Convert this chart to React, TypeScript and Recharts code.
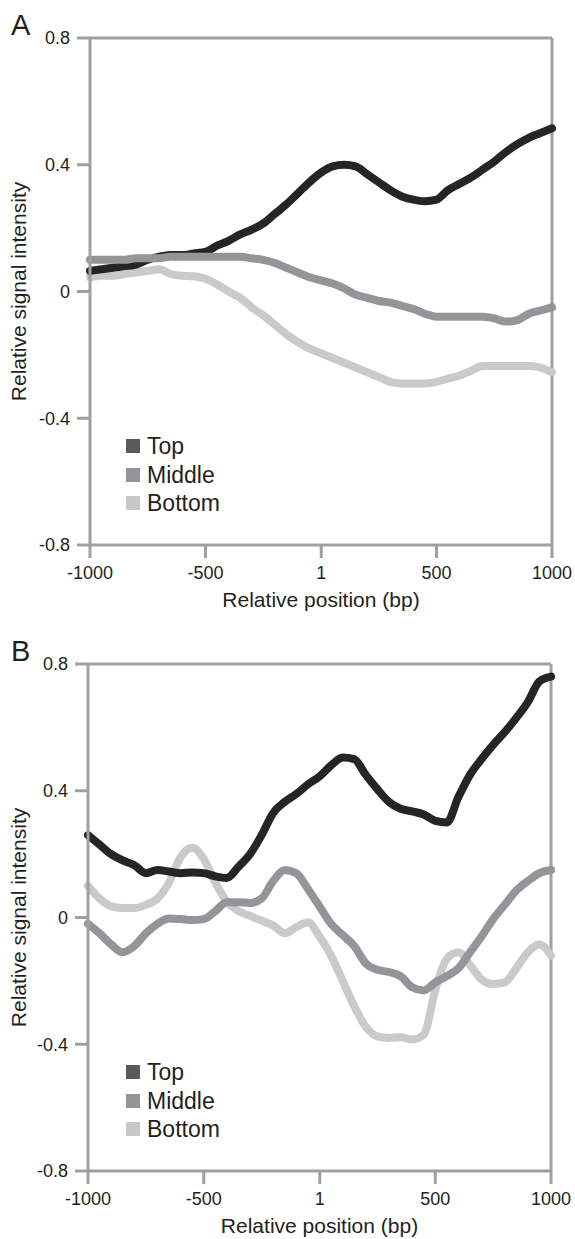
import React from 'react';
import { LineChart, Line, XAxis, YAxis, ReferenceLine, Legend, Label } from 'recharts';

// relative position (bp), sampled every 50 bp
const positions = [
  -1000, -950, -900, -850, -800, -750, -700, -650, -600, -550, -500,
  -450, -400, -350, -300, -250, -200, -150, -100, -50, 0,
  50, 100, 150, 200, 250, 300, 350, 400, 450, 500,
  550, 600, 650, 700, 750, 800, 850, 900, 950, 1000,
];

// panel A
const topA = [
  0.065, 0.07, 0.075, 0.08, 0.085, 0.1, 0.11, 0.115, 0.115, 0.12, 0.125,
  0.145, 0.16, 0.18, 0.195, 0.215, 0.245, 0.275, 0.31, 0.345, 0.375,
  0.395, 0.4, 0.395, 0.37, 0.345, 0.32, 0.3, 0.29, 0.285, 0.29,
  0.32, 0.34, 0.36, 0.385, 0.41, 0.44, 0.465, 0.485, 0.5, 0.515,
];
const middleA = [
  0.1, 0.1, 0.1, 0.1, 0.105, 0.105, 0.105, 0.11, 0.11, 0.11, 0.11,
  0.11, 0.11, 0.11, 0.105, 0.1, 0.09, 0.075, 0.06, 0.045, 0.035,
  0.025, 0.01, -0.01, -0.02, -0.03, -0.035, -0.045, -0.055, -0.07, -0.08,
  -0.08, -0.08, -0.08, -0.08, -0.085, -0.095, -0.09, -0.07, -0.06, -0.05,
];
const bottomA = [
  0.045, 0.05, 0.05, 0.055, 0.06, 0.065, 0.07, 0.055, 0.05, 0.048, 0.04,
  0.022, 0.0, -0.02, -0.05, -0.075, -0.105, -0.135, -0.16, -0.18, -0.195,
  -0.21, -0.225, -0.24, -0.255, -0.27, -0.285, -0.29, -0.29, -0.29, -0.285,
  -0.275, -0.265, -0.25, -0.235, -0.235, -0.235, -0.235, -0.235, -0.24, -0.255,
];

// panel B
const topB = [
  0.26, 0.23, 0.2, 0.18, 0.165, 0.14, 0.15, 0.145, 0.14, 0.142, 0.14,
  0.13, 0.125, 0.16, 0.2, 0.26, 0.33, 0.365, 0.39, 0.42, 0.445,
  0.48, 0.505, 0.5, 0.45, 0.405, 0.365, 0.343, 0.335, 0.325, 0.305,
  0.3, 0.38, 0.45, 0.5, 0.545, 0.585, 0.63, 0.68, 0.745, 0.76,
];
const middleB = [
  -0.02, -0.05, -0.085, -0.11, -0.09, -0.05, -0.02, -0.003, -0.005, -0.008, -0.005,
  0.02, 0.048, 0.048, 0.046, 0.06, 0.115, 0.15, 0.14, 0.09, 0.035,
  -0.02, -0.055, -0.09, -0.145, -0.165, -0.172, -0.185, -0.22, -0.23, -0.205,
  -0.185, -0.16, -0.11, -0.06, -0.005, 0.04, 0.085, 0.115, 0.14, 0.15,
];
const bottomB = [
  0.1, 0.06, 0.035, 0.03, 0.03, 0.04, 0.06, 0.11, 0.19, 0.22, 0.185,
  0.11, 0.05, 0.02, 0.005, -0.01, -0.025, -0.05, -0.03, -0.015, -0.06,
  -0.12, -0.2, -0.28, -0.345, -0.375, -0.38, -0.378, -0.385, -0.37, -0.23,
  -0.13, -0.11, -0.15, -0.195, -0.21, -0.205, -0.16, -0.11, -0.085, -0.12,
];

const xTicks = [-1000, -500, 1, 500, 1000];
const yTicks = [-0.8, -0.4, 0, 0.4, 0.8];

const seriesNames = ['Top', 'Middle', 'Bottom'];
const lineColors = ['#262425', '#939598', '#c9cacc'];
const legendColors = ['#5a5a5c', '#939598', '#c6c7c9'];

const font = '"Liberation Sans", Arial, sans-serif';
const axisGrey = '#a0a0a3';
const textColor = '#231f20';

const LegendBox = () => (
  <div style={{ fontFamily: font, fontSize: 23, color: textColor, lineHeight: '28.5px' }}>
    {seriesNames.map((name, i) => (
      <div key={name} style={{ display: 'flex', alignItems: 'center' }}>
        <span style={{ display: 'inline-block', width: 14, height: 14, background: legendColors[i], marginRight: 7 }} />
        <span>{name}</span>
      </div>
    ))}
  </div>
);

const YLabel = (props: any) => {
  const { x, y, height } = props.viewBox;
  const cx = x + 18;
  const cy = y + height / 2;
  return (
    <text x={cx} y={cy} transform={`rotate(-90 ${cx} ${cy})`} textAnchor="middle" dominantBaseline="central"
      fontFamily={font} fontSize={21} fill={textColor}>
      Relative signal intensity
    </text>
  );
};

interface PanelProps {
  letter: string;
  top: number[];
  middle: number[];
  bottom: number[];
  height: number;
  margin: { top: number; right: number; left: number; bottom: number };
  yWidth: number;
  offsetTop: number;
}

const Panel = ({ letter, top, middle, bottom, height, margin, yWidth, offsetTop }: PanelProps) => {
  const data = positions.map((x, i) => ({ x, top: top[i], middle: middle[i], bottom: bottom[i] }));
  return (
    <div style={{ position: 'absolute', left: 0, top: offsetTop, width: 575, height }}>
      <LineChart width={575} height={height} data={data} margin={margin}>
        <XAxis type="number" dataKey="x" domain={[-1000, 1000]} ticks={xTicks} height={40}
          tick={{ fill: textColor, fontSize: 18, fontFamily: font }}
          tickLine={{ stroke: axisGrey, strokeWidth: 3 }} axisLine={{ stroke: axisGrey, strokeWidth: 3 }}
          tickSize={13} tickMargin={8} interval={0}>
          <Label value="Relative position (bp)" position="bottom" offset={7}
            style={{ fontFamily: font, fontSize: 21, fill: textColor }} />
        </XAxis>
        <YAxis type="number" domain={[-0.8, 0.8]} ticks={yTicks} width={yWidth}
          tickFormatter={(v: number) => String(v)}
          tick={{ fill: textColor, fontSize: 18, fontFamily: font }}
          tickLine={{ stroke: axisGrey, strokeWidth: 3 }} axisLine={{ stroke: axisGrey, strokeWidth: 3 }}
          tickSize={13} tickMargin={7} interval={0}>
          <Label content={YLabel} />
        </YAxis>
        <ReferenceLine y={0.8} stroke={axisGrey} strokeWidth={3} />
        <ReferenceLine x={1000} stroke={axisGrey} strokeWidth={3} />
        <Line type="monotone" dataKey="bottom" name="Bottom" stroke={lineColors[2]} strokeWidth={8}
          dot={false} isAnimationActive={false} strokeLinecap="round" />
        <Line type="monotone" dataKey="top" name="Top" stroke={lineColors[0]} strokeWidth={8}
          dot={false} isAnimationActive={false} strokeLinecap="round" />
        <Line type="monotone" dataKey="middle" name="Middle" stroke={lineColors[1]} strokeWidth={8}
          dot={false} isAnimationActive={false} strokeLinecap="round" />
        <Legend layout="vertical" align="center" verticalAlign="middle" content={LegendBox}
          wrapperStyle={{ left: 126, top: margin.top + 394, width: 'auto' }} />
      </LineChart>
      <div style={{ position: 'absolute', left: 11, top: margin.top - 30, fontFamily: font, fontSize: 29,
        lineHeight: '34px', color: textColor }}>
        {letter}
      </div>
    </div>
  );
};

export default function App() {
  return (
    <div style={{ position: 'absolute', left: 0, top: 0, width: 575, height: 1239, background: '#fff' }}>
      <Panel letter="A" top={topA} middle={middleA} bottom={bottomA} height={620}
        margin={{ top: 38, right: 23, left: 0, bottom: 35 }} yWidth={90} offsetTop={0} />
      <Panel letter="B" top={topB} middle={middleB} bottom={bottomB} height={619}
        margin={{ top: 44, right: 24, left: 0, bottom: 28 }} yWidth={88} offsetTop={620} />
    </div>
  );
}
